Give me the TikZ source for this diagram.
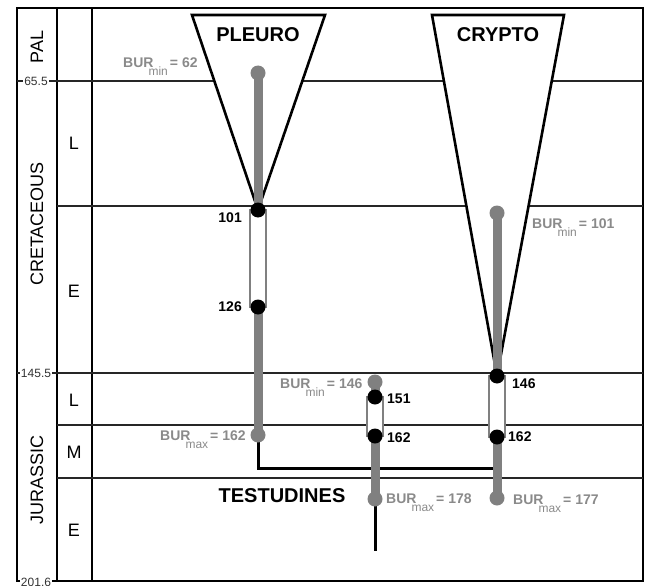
\documentclass[tikz,border=0pt]{standalone}
\usepackage{fontspec}
\setmainfont{Liberation Sans}
\definecolor{burgray}{HTML}{8A8A8A}
\definecolor{bargray}{HTML}{808080}
\newcommand{\burlab}[2]{BUR\kern-5pt\raisebox{-8pt}{\fontsize{12}{12}\mdseries\selectfont #1}\kern2pt=\hspace{4pt}#2}
\tikzset{
  frame/.style={line width=2pt},
  stage/.style={line width=1.5pt, black!85},
  clade/.style={draw, line width=2.6pt, fill=white, line join=miter},
  lineage/.style={line width=9pt, bargray},
  ghost/.style={draw=bargray, line width=1.1pt, fill=white},
  link/.style={line width=3pt},
  bdot/.style={circle, fill=black, minimum size=15pt, inner sep=0pt},
  gdot/.style={circle, fill=bargray, minimum size=15pt, inner sep=0pt},
  period/.style={font=\fontsize{18}{18}\selectfont, rotate=90},
  epoch/.style={font=\fontsize{18}{18}\selectfont},
  age/.style={font=\fontsize{12}{12}\selectfont, text=black!80, fill=white, inner sep=1pt},
  taxon/.style={font=\fontsize{20}{20}\selectfont\bfseries},
  num/.style={font=\fontsize{14}{14}\selectfont\bfseries, inner sep=0pt},
  bur/.style={font=\fontsize{14}{14}\selectfont\bfseries, text=burgray, anchor=base west, inner sep=0pt}
}
\begin{document}
\begin{tikzpicture}[x=1pt, y=-1pt]
\useasboundingbox (0,0) rectangle (648,586);
% time scale grid
\draw[frame] (17,8) rectangle (643,581);
\draw[frame] (57,8) -- (57,581);
\draw[frame] (92,8) -- (92,581);
\foreach \y in {206,425,478}
  \draw[stage] (57,\y) -- (643,\y);
\foreach \y in {81,373}
  \draw[stage] (17,\y) -- (643,\y);
\node[period] (pal) at (37,47) {PAL};
\node[period] (cret) at (37,224) {CRETACEOUS};
\node[period] (jur) at (37,480) {JURASSIC};
\node[epoch] (klate) at (74,143) {L};
\node[epoch] (kearly) at (74,291) {E};
\node[epoch] (jlate) at (74,400) {L};
\node[epoch] (jmid) at (74,452) {M};
\node[epoch] (jearly) at (74,530) {E};
\node[age] (a655) at (36,81) {65.5};
\node[age] (a1455) at (36,373) {145.5};
\node[age] (a2016) at (36,582) {201.6};
% lineage points
\coordinate (ptop) at (258,73);
\coordinate (p101) at (258,210);
\coordinate (p126) at (258,307);
\coordinate (pmax) at (258,435);
\coordinate (tmin) at (375,382);
\coordinate (t151) at (375,397);
\coordinate (t162) at (375,436);
\coordinate (tmax) at (375,499);
\coordinate (tend) at (375,551);
\coordinate (ctop) at (497,213);
\coordinate (c146) at (497,376);
\coordinate (c162) at (497,437);
\coordinate (cmax) at (497,498);
% clades
\draw[clade] (192,15) -- (325,15) -- (p101) -- cycle;
\draw[clade] (432,15) -- (564,15) -- (c146) -- cycle;
\node[taxon] (pleuro) at (258,35) {PLEURO};
\node[taxon] (crypto) at (498,35) {CRYPTO};
\node[taxon] (testu) at (282,496) {TESTUDINES};
% connections
\draw[link] (pmax) |- (cmax |- 0,468);
\draw[link] (tmax) -- (tend);
\draw[lineage] (ptop) -- (p101);
\draw[lineage] (p126) -- (pmax);
\draw[lineage] (tmin) -- (t151);
\draw[lineage] (t162) -- (tmax);
\draw[lineage] (ctop) -- (c146);
\draw[lineage] (c162) -- (cmax);
\draw[ghost] ([xshift=-8pt]p101) rectangle ([xshift=8pt]p126);
\draw[ghost] ([xshift=-8pt]t151) rectangle ([xshift=8pt]t162);
\draw[ghost] ([xshift=-8pt]c146) rectangle ([xshift=8pt]c162);
% dots
\node[gdot] (ptopdot) at (ptop) {};
\node[bdot] (p101dot) at (p101) {};
\node[bdot] (p126dot) at (p126) {};
\node[gdot] (pmaxdot) at (pmax) {};
\node[gdot] (tmindot) at (tmin) {};
\node[bdot] (t151dot) at (t151) {};
\node[bdot] (t162dot) at (t162) {};
\node[gdot] (tmaxdot) at (tmax) {};
\node[gdot] (ctopdot) at (ctop) {};
\node[bdot] (c146dot) at (c146) {};
\node[bdot] (c162dot) at (c162) {};
\node[gdot] (cmaxdot) at (cmax) {};
% labels
\node[num, anchor=east] (l101) at (242,218) {101};
\node[num, anchor=east] (l126) at (242,307) {126};
\node[num, anchor=west] (l151) at (387,399) {151};
\node[num, anchor=west] (l162t) at (387,438) {162};
\node[num, anchor=west] (l146) at (512,384) {146};
\node[num, anchor=west] (l162c) at (508,437) {162};
\node[bur] (bur62) at (123,68) {\burlab{min}{62}};
\node[bur] (bur101) at (532,228) {\burlab{min}{101}};
\node[bur] (bur146) at (280,388) {\burlab{min}{146}};
\node[bur] (bur162) at (160,440) {\burlab{max}{162}};
\node[bur] (bur178) at (386,503) {\burlab{max}{178}};
\node[bur] (bur177) at (513,504) {\burlab{max}{177}};
\end{tikzpicture}
\end{document}
